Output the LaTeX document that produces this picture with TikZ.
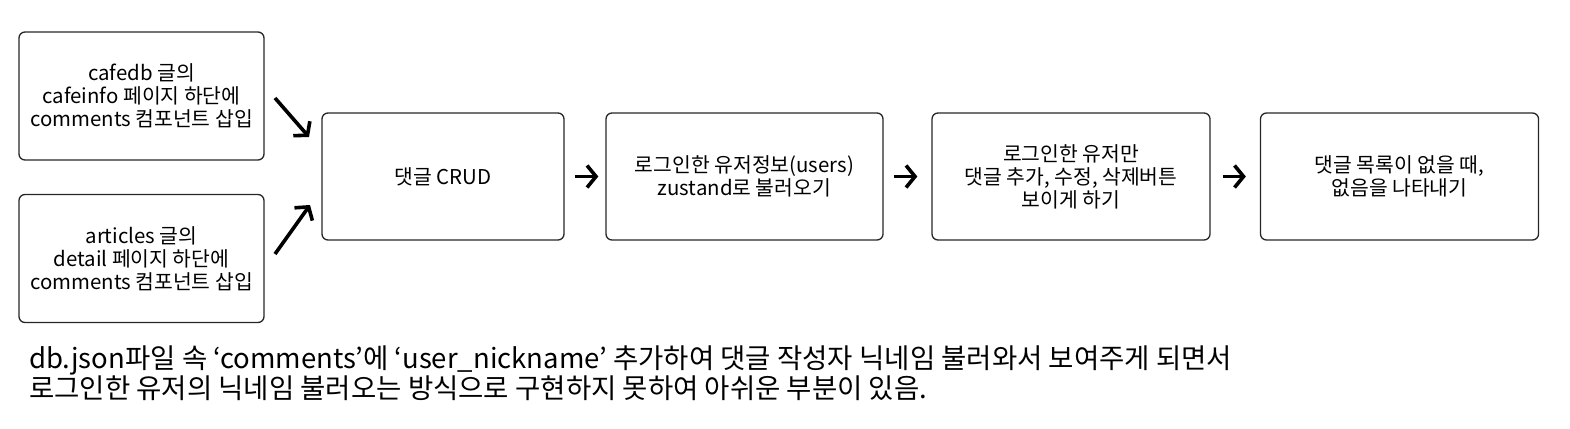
\documentclass[tikz,border=0pt]{standalone}
\usepackage{fontspec}
\setmainfont{Noto Sans CJK KR}
\usetikzlibrary{arrows.meta}
\begin{document}
\begin{tikzpicture}[x=1pt,y=-1pt,
  card/.style={draw=black!85,line width=1.3pt,rounded corners=6pt,inner sep=0pt,
    font=\fontsize{20.4}{23}\selectfont,align=center},
  flow/.style={line width=3.6pt,-{Straight Barb[length=9pt,width=22pt,line width=3.6pt]}}]
\useasboundingbox (0,0) rectangle (1570,428);
\node[card,minimum width=245pt,minimum height=128pt] (a) at (141.5,96) {cafedb 글의\\cafeinfo 페이지 하단에\\comments 컴포넌트 삽입};
\node[card,minimum width=245pt,minimum height=128pt] (b) at (141.5,258.5) {articles 글의\\detail 페이지 하단에\\comments 컴포넌트 삽입};
\node[card,minimum width=242pt,minimum height=127pt] (c) at (443,176.5) {댓글 CRUD};
\node[card,minimum width=277pt,minimum height=127pt] (d) at (744.5,176.5) {로그인한 유저정보(users)\\zustand로 불러오기};
\node[card,minimum width=278pt,minimum height=127pt] (e) at (1071,176.5) {로그인한 유저만\\댓글 추가, 수정, 삭제버튼\\보이게 하기};
\node[card,minimum width=278pt,minimum height=127pt] (f) at (1399.5,176.5) {댓글 목록이 없을 때,\\없음을 나타내기};
\coordinate (a1) at (275,98);
\coordinate (a2) at (309,137);
\coordinate (b1) at (275,254);
\coordinate (b2) at (310,205);
\draw[flow] (a1) -- (a2);
\draw[flow] (b1) -- (b2);
\draw[flow] ([xshift=10pt]c.east) -- ([xshift=-7pt]d.west);
\draw[flow] ([xshift=10pt]d.east) -- ([xshift=-14pt]e.west);
\draw[flow] ([xshift=12pt]e.east) -- ([xshift=-14pt]f.west);
\node[anchor=west,align=left,inner sep=0pt,font=\fontsize{27.5}{30}\selectfont] (note) at (29,373)
 {db.json파일 속 ‘comments’에 ‘user\_nickname’ 추가하여 댓글 작성자 닉네임 불러와서 보여주게 되면서\\로그인한 유저의 닉네임 불러오는 방식으로 구현하지 못하여 아쉬운 부분이 있음.};
\end{tikzpicture}
\end{document}
